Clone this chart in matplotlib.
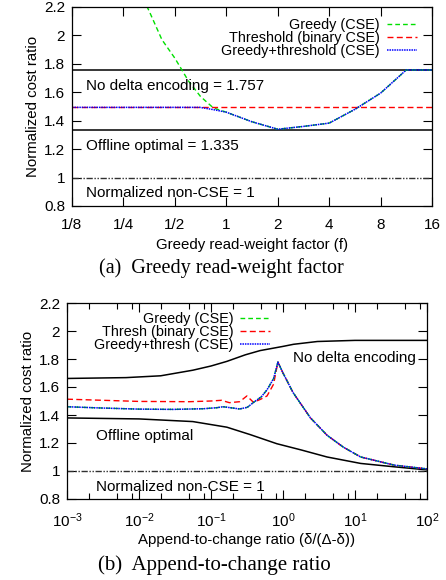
import matplotlib
matplotlib.use('Agg')
import matplotlib.pyplot as plt
from matplotlib.ticker import FixedLocator, NullFormatter, NullLocator

plt.rcParams['font.family'] = ['Liberation Sans', 'DejaVu Sans']
plt.rcParams['mathtext.fontset'] = 'custom'
plt.rcParams['mathtext.rm'] = 'Liberation Sans'
plt.rcParams['font.size'] = 11

# (a) greedy read-weight factor
f_ticks = [0.125, 0.25, 0.5, 1, 2, 4, 8, 16]
f_tick_labels = ['1/8', '1/4', '1/2', '1', '2', '4', '8', '16']
f_greedy = [0.3, 0.354, 0.42, 0.5, 0.55, 0.6, 0.707, 0.84, 1, 1.41, 2, 2.83, 4, 5.66, 8, 11.3, 16]
greedy_a = [2.35, 2.17, 1.97, 1.84, 1.757, 1.68, 1.57, 1.49, 1.46, 1.393, 1.34, 1.36, 1.383, 1.48, 1.594, 1.757, 1.757]
f_thresh = [0.125, 16]
thresh_a = [1.494, 1.494]
f_both = [0.125, 0.25, 0.5, 0.7, 0.84, 1, 1.41, 2, 2.83, 4, 5.66, 8, 11.3, 16]
both_a = [1.494, 1.494, 1.494, 1.494, 1.478, 1.46, 1.393, 1.34, 1.36, 1.383, 1.48, 1.594, 1.757, 1.757]
nodelta_a = 1.757
offline_a = 1.335
noncse = 1.0

# (b) append-to-change ratio
r_nodelta = [1e-3, 6.6e-3, 0.02, 0.056, 0.1, 0.166, 0.3, 0.48, 1, 1.4, 3, 10, 100]
nodelta_b = [1.661, 1.667, 1.68, 1.72, 1.75, 1.783, 1.83, 1.86, 1.89, 1.905, 1.925, 1.933, 1.933]
r_offline = [1e-3, 0.01, 0.056, 0.166, 0.35, 0.82, 1.8, 4.1, 12, 35, 100]
offline_b = [1.379, 1.372, 1.353, 1.313, 1.26, 1.195, 1.15, 1.10, 1.054, 1.03, 1.008]
r_greedy = [1e-3, 3e-3, 0.01, 0.03, 0.08, 0.12, 0.147, 0.2, 0.25, 0.32, 0.39, 0.5, 0.6, 0.74, 0.85,
            1.0, 1.38, 2.4, 4.1, 6.9, 12, 35, 100]
greedy_b = [1.459, 1.45, 1.442, 1.44, 1.445, 1.452, 1.459, 1.45, 1.443, 1.455, 1.49, 1.53, 1.58, 1.66, 1.778,
            1.70, 1.56, 1.38, 1.255, 1.17, 1.10, 1.042, 1.015]
r_thresh = [1e-3, 0.01, 0.05, 0.1, 0.14, 0.18, 0.25, 0.315, 0.39, 0.5, 0.6, 0.74, 0.85,
            1.0, 1.38, 2.4, 4.1, 6.9, 12, 35, 100]
thresh_b = [1.513, 1.497, 1.495, 1.50, 1.505, 1.488, 1.495, 1.536, 1.49, 1.515, 1.536, 1.62, 1.778,
            1.70, 1.56, 1.38, 1.255, 1.17, 1.10, 1.042, 1.015]
r_ticks = [1e-3, 1e-2, 1e-1, 1, 10, 100]
r_minor = [m * d for d in [1e-3, 1e-2, 1e-1, 1, 10] for m in (2, 5, 8)]

y_ticks = [0.8, 1, 1.2, 1.4, 1.6, 1.8, 2, 2.2]
y_tick_labels = ['0.8', '1', '1.2', '1.4', '1.6', '1.8', '2', '2.2']

GREEN = '#00e000'
RED = '#ff0000'
BLUE = '#0000ff'
dd = (4.5, 1.2, 1, 1.2, 1, 1.2)
FS = 10.8
LFS = 10.4
AFS = 11


def style_axes(ax):
    ax.set_ylim(0.8, 2.2)
    ax.set_yticks(y_ticks)
    ax.set_yticklabels(y_tick_labels)
    ax.tick_params(which='major', direction='in', length=6.5, width=0.8,
                   top=True, right=True, labelsize=11)
    ax.tick_params(axis='x', which='major', pad=9)
    ax.tick_params(axis='y', which='major', pad=5)
    ax.tick_params(which='minor', direction='in', length=4.5, width=0.8, top=True, right=True)
    for s in ax.spines.values():
        s.set_linewidth(0.9)
    ax.set_ylabel('Normalized cost ratio', fontsize=FS, labelpad=3)


fig = plt.figure(figsize=(4.46, 5.80), dpi=100)

# ---- panel (a)
ax1 = fig.add_axes([72 / 446, 1 - 206 / 580, 360 / 446, 199 / 580])
ax1.set_xscale('log', base=2)
ax1.set_xlim(0.125, 16)
ax1.xaxis.set_major_locator(FixedLocator(f_ticks))
ax1.set_xticklabels(f_tick_labels)
ax1.xaxis.set_minor_locator(NullLocator())
style_axes(ax1)

ax1.axhline(nodelta_a, color='black', lw=1.1)
ax1.axhline(offline_a, color='black', lw=1.1)
ax1.axhline(noncse, color='#303030', lw=1.0, dashes=dd)
l1, = ax1.plot(f_greedy, greedy_a, color=GREEN, lw=1.0, dashes=(3.4, 2.2))
l2, = ax1.plot(f_thresh, thresh_a, color=RED, lw=1.0, dashes=(4.3, 2.4))
l3, = ax1.plot(f_both, both_a, color=BLUE, lw=1.1, dashes=(1, 0.6))
ax1.legend([l1, l2, l3], ['Greedy (CSE)', 'Threshold (binary CSE)', 'Greedy+threshold (CSE)'],
           loc='upper right', bbox_to_anchor=(0.958, 0.945), frameon=False, markerfirst=False,
           fontsize=LFS, handlelength=2.1, handletextpad=0.45, labelspacing=-0.06, borderpad=0,
           borderaxespad=0)
ax1.text(0.039, 0.603, 'No delta encoding = 1.757', transform=ax1.transAxes, va='center', fontsize=AFS)
ax1.text(0.039, 0.302, 'Offline optimal = 1.335', transform=ax1.transAxes, va='center', fontsize=AFS)
ax1.text(0.039, 0.065, 'Normalized non-CSE = 1', transform=ax1.transAxes, va='center', fontsize=AFS)
ax1.set_xlabel('Greedy read-weight factor (f)', fontsize=FS, labelpad=4)
fig.text(0.497, 1 - 268 / 580, '(a)  Greedy read-weight factor', ha='center', va='center',
         family='Liberation Serif', fontsize=14.5)

# ---- panel (b)
ax2 = fig.add_axes([67 / 446, 1 - 499 / 580, 360 / 446, 196 / 580])
ax2.set_xscale('log')
ax2.set_xlim(1e-3, 100)
ax2.xaxis.set_major_locator(FixedLocator(r_ticks))
ax2.xaxis.set_minor_locator(FixedLocator(r_minor))
ax2.xaxis.set_minor_formatter(NullFormatter())
style_axes(ax2)

ax2.plot(r_nodelta, nodelta_b, color='black', lw=1.1)
ax2.plot(r_offline, offline_b, color='black', lw=1.1)
ax2.axhline(noncse, color='#303030', lw=1.0, dashes=dd)
m2, = ax2.plot(r_thresh, thresh_b, color=RED, lw=1.0, dashes=(4.3, 2.4))
m1, = ax2.plot(r_greedy, greedy_b, color=GREEN, lw=1.0, dashes=(3.4, 2.2))
m3, = ax2.plot(r_greedy, greedy_b, color=BLUE, lw=1.1, dashes=(1, 0.6))
ax2.legend([m1, m2, m3], ['Greedy (CSE)', 'Thresh (binary CSE)', 'Greedy+thresh (CSE)'],
           loc='upper right', bbox_to_anchor=(0.564, 0.955), frameon=False, markerfirst=False,
           fontsize=LFS, handlelength=2.1, handletextpad=0.45, labelspacing=-0.06, borderpad=0,
           borderaxespad=0)
ax2.text(0.628, 0.719, 'No delta encoding', transform=ax2.transAxes, va='center', fontsize=AFS)
ax2.text(0.081, 0.321, 'Offline optimal', transform=ax2.transAxes, va='center', fontsize=AFS)
ax2.text(0.081, 0.061, 'Normalized non-CSE = 1', transform=ax2.transAxes, va='center', fontsize=AFS)
ax2.set_xlabel('Append-to-change ratio (\u03b4/(\u0394-\u03b4))', fontsize=FS, labelpad=2)
fig.text(0.48, 1 - 565 / 580, '(b)  Append-to-change ratio', ha='center', va='center',
         family='Liberation Serif', fontsize=15)

fig.savefig('out.png', dpi=100)
